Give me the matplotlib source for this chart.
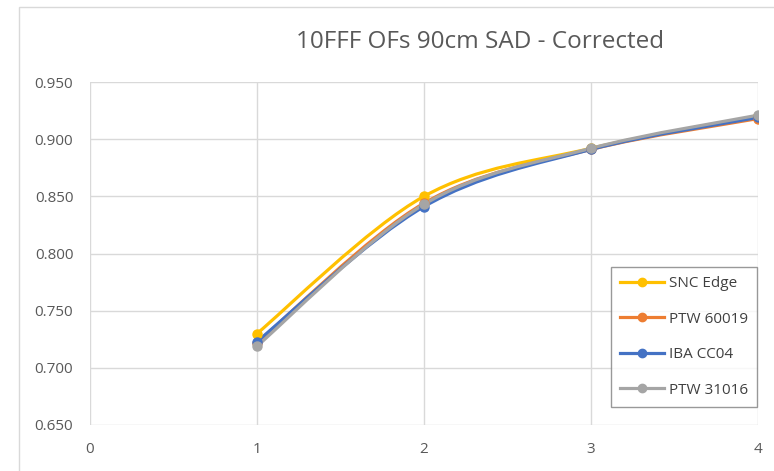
import numpy as np
import matplotlib.pyplot as plt
from matplotlib.path import Path
from matplotlib.patches import PathPatch, Rectangle
from matplotlib.lines import Line2D

plt.rcParams['font.family'] = ['Open Sans', 'DejaVu Sans']

# Data
x = [1, 2, 3, 4]
snc_edge = [0.730, 0.850, 0.892, 0.920]
ptw_60019 = [0.722, 0.844, 0.891, 0.918]
iba_cc04 = [0.723, 0.841, 0.891, 0.919]
ptw_31016 = [0.719, 0.843, 0.892, 0.921]

names = ["SNC Edge", "PTW 60019", "IBA CC04", "PTW 31016"]
colors = ["#FFC000", "#ED7D31", "#4472C4", "#A5A5A5"]
series = [snc_edge, ptw_60019, iba_cc04, ptw_31016]


def smooth_path(xs, ys):
    # Excel-style smoothed line: cubic Bezier segments (Catmull-Rom tangents)
    pts = np.column_stack([xs, ys]).astype(float)
    n = len(pts)
    verts = [pts[0]]
    codes = [Path.MOVETO]
    for i in range(n - 1):
        p0 = pts[max(i - 1, 0)]
        p1 = pts[i]
        p2 = pts[i + 1]
        p3 = pts[min(i + 2, n - 1)]
        c1 = p1 + (p2 - p0) / 6.0
        c2 = p2 - (p3 - p1) / 6.0
        verts += [c1, c2, p2]
        codes += [Path.CURVE4] * 3
    return Path(verts, codes)


fig = plt.figure(figsize=(7.74, 4.71), dpi=100)
fig.patch.set_facecolor("white")
fig.patches.append(Rectangle((19 / 774, -0.01), 1.0, 1 - 7 / 471 + 0.01,
                             transform=fig.transFigure, fill=False,
                             edgecolor="#d9d9d9", linewidth=1))

ax = fig.add_axes([90 / 774, 1 - 425 / 471, (758 - 90) / 774, (425 - 82) / 471])

handles = []
for ys, c, name in zip(series, colors, names):
    ax.add_patch(PathPatch(smooth_path(x, ys), facecolor="none", edgecolor=c,
                           linewidth=2.3, capstyle="round", zorder=3))
    ax.plot(x, ys, linestyle="none", marker="o", markersize=6.5, color=c, zorder=4)
    handles.append(Line2D([], [], color=c, linewidth=2.3, marker="o", markersize=6, label=name))

ax.set_xlim(0, 4)
ax.set_ylim(0.65, 0.95)
ax.set_xticks([0, 1, 2, 3, 4])
ax.set_yticks(np.arange(0.65, 0.951, 0.05))
ax.set_yticklabels([f"{v:.3f}" for v in np.arange(0.65, 0.951, 0.05)])
ax.grid(True, color="#d9d9d9", linewidth=1)
ax.set_axisbelow(True)
for s in ax.spines.values():
    s.set_visible(False)
ax.tick_params(length=0, labelsize=11, colors="#595959")
ax.tick_params(axis="x", pad=12)
ax.tick_params(axis="y", pad=12)

fig.text(480 / 774, 1 - 42 / 471, "10FFF OFs 90cm SAD - Corrected",
         ha="center", va="center", fontsize=17.5, color="#595959")

leg = ax.legend(handles=handles, loc="lower right", bbox_to_anchor=(0.9985, 0.0525),
                borderaxespad=0, fontsize=11, frameon=True, fancybox=False,
                labelspacing=1.35, handlelength=2.9, borderpad=0.6, handletextpad=0.3)
leg.get_frame().set_edgecolor("#808080")
leg.get_frame().set_linewidth(1)
for t in leg.get_texts():
    t.set_color("#404040")

fig.savefig("out.png", dpi=100)
